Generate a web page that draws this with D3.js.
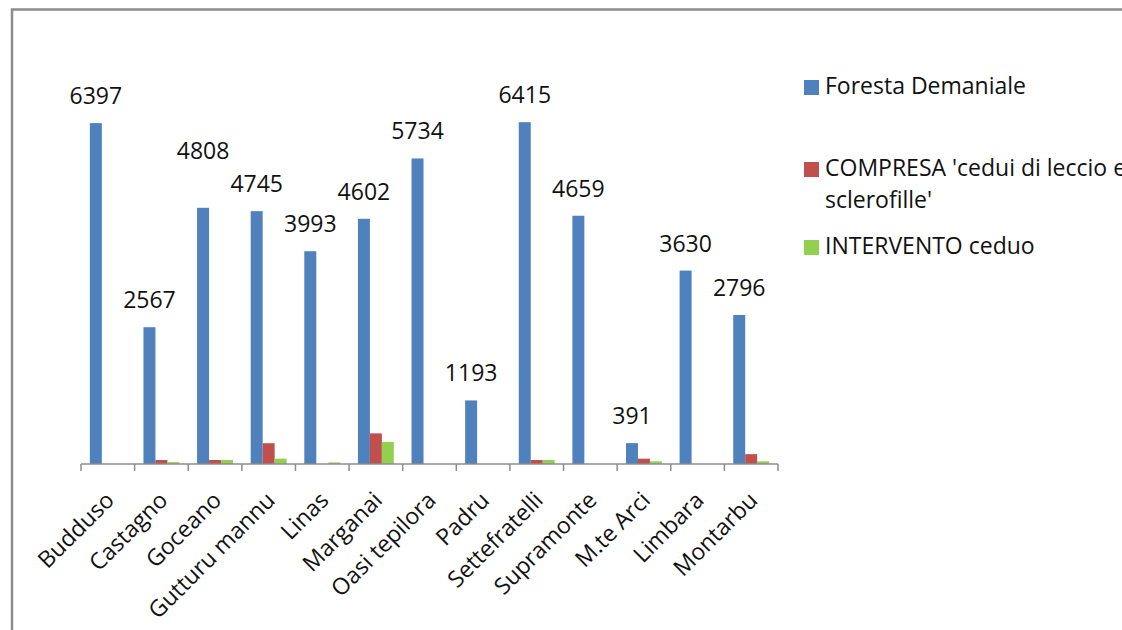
<!DOCTYPE html>
<html lang="it">
<head>
    <meta charset="UTF-8">
    <title>Foreste demaniali</title>
    <script src="https://d3js.org/d3.v7.min.js"></script>
    <style>
        body { margin: 0; background: #fff; }
        svg { display: block; font-family: "Open Sans", Lato, sans-serif; }
    </style>
</head>
<body>
    <svg></svg>
    <script>
        // Data
        const categories = ["Budduso", "Castagno", "Goceano", "Gutturu mannu", "Linas", "Marganai",
            "Oasi tepilora", "Padru", "Settefratelli", "Supramonte", "M.te Arci", "Limbara", "Montarbu"];
        const foresta = [6397, 2567, 4808, 4745, 3993, 4602, 5734, 1193, 6415, 4659, 391, 3630, 2796];
        const compresa = [0, 75, 75, 390, 0, 575, 0, 0, 75, 0, 100, 0, 185];
        const intervento = [0, 35, 75, 100, 30, 415, 0, 0, 75, 0, 50, 0, 50];
        const seriesNames = ["Foresta Demaniale", "COMPRESA 'cedui di leccio e sclerofille'", "INTERVENTO ceduo"];
        const legendLines = [["Foresta Demaniale"], ["COMPRESA 'cedui di leccio e", "sclerofille'"], ["INTERVENTO ceduo"]];
        const colors = ["#4F81BD", "#C0504D", "#92D050"];

        const W = 1122, H = 630;
        const svg = d3.select("svg").attr("width", W).attr("height", H);

        // Chart frame (runs off the right and bottom edge)
        svg.append("rect")
            .attr("x", 12).attr("y", 9.5)
            .attr("width", W + 20).attr("height", H + 20)
            .attr("fill", "none")
            .attr("stroke", "#8c8c8c")
            .attr("stroke-width", 2.5);

        const values = [foresta, compresa, intervento];
        const rows = categories.map((c, i) => ({
            name: c,
            vals: values.map((arr, s) => ({ s: s, v: arr[i] }))
        }));

        // Scales
        const x0 = d3.scaleBand().domain(categories).range([81, 778]);
        const gp = 0.165;
        const x1 = d3.scaleBand().domain(d3.range(3))
            .range([x0.bandwidth() * gp, x0.bandwidth() * (1 - gp)]);
        const y = d3.scaleLinear().domain([0, 7000]).range([464, 91]);

        // Bars
        const groups = svg.append("g").selectAll("g")
            .data(rows)
            .enter().append("g")
            .attr("transform", d => `translate(${x0(d.name)},0)`);

        groups.selectAll("rect")
            .data(d => d.vals.filter(e => e.v > 0))
            .enter().append("rect")
            .attr("x", e => x1(e.s))
            .attr("y", e => y(e.v))
            .attr("width", x1.bandwidth())
            .attr("height", e => y(0) - y(e.v))
            .attr("fill", e => colors[e.s]);

        // Value labels on first series, lift a label that would collide with its neighbour
        const labelPos = rows.map(d => ({
            cx: x0(d.name) + x1(0) + x1.bandwidth() / 2,
            y: y(d.vals[0].v) - 19,
            v: d.vals[0].v
        }));
        for (let i = 0; i < labelPos.length - 1; i++) {
            const a = labelPos[i], b = labelPos[i + 1];
            if (Math.abs(a.cx - b.cx) < 58 && Math.abs(a.y - b.y) < 22) {
                if (a.v > b.v) a.y -= 30; else b.y -= 30;
            }
        }
        svg.append("g").selectAll("text")
            .data(labelPos)
            .enter().append("text")
            .attr("x", d => d.cx)
            .attr("y", d => d.y)
            .attr("text-anchor", "middle")
            .attr("font-size", 23)
            .attr("fill", "#111")
            .text(d => d.v);

        // X axis
        const xAxis = svg.append("g")
            .attr("transform", "translate(0,464)");
        xAxis.append("line")
            .attr("x1", 81).attr("x2", 778)
            .attr("stroke", "#8c8c8c").attr("stroke-width", 1.5);
        xAxis.selectAll(".tick")
            .data(categories.concat([null]))
            .enter().append("line")
            .attr("x1", (d, i) => 81 + i * x0.step())
            .attr("x2", (d, i) => 81 + i * x0.step())
            .attr("y1", 0).attr("y2", 7)
            .attr("stroke", "#8c8c8c").attr("stroke-width", 1.5);

        xAxis.selectAll(".lbl")
            .data(categories)
            .enter().append("text")
            .attr("transform", d => `translate(${x0(d) + x0.bandwidth() / 2 + 2},32) rotate(-45)`)
            .attr("text-anchor", "end")
            .attr("dy", "0.35em")
            .attr("font-size", 23)
            .attr("fill", "#111")
            .text(d => d);

        // Legend
        const legendY = [80, 162, 240];
        const legend = svg.append("g").selectAll("g")
            .data(seriesNames)
            .enter().append("g")
            .attr("transform", (d, i) => `translate(804,${legendY[i]})`);
        legend.append("rect")
            .attr("width", 15).attr("height", 15)
            .attr("fill", (d, i) => colors[i]);
        legend.append("text")
            .attr("font-size", 23)
            .attr("fill", "#111")
            .selectAll("tspan")
            .data((d, i) => legendLines[i])
            .enter().append("tspan")
            .attr("x", 21)
            .attr("y", (t, j) => 14 + j * 31.5)
            .text(t => t);
    </script>
</body>
</html>
